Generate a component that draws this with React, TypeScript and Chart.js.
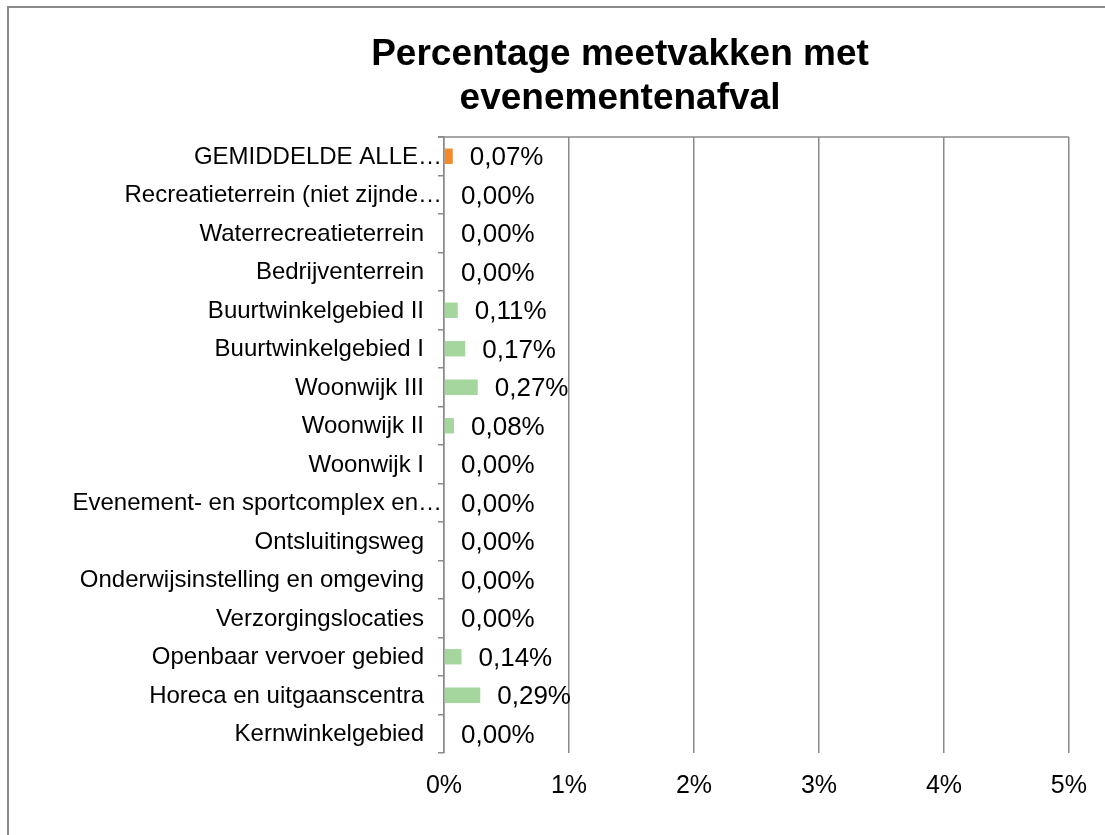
import React, { useEffect, useRef } from "react";
import { Chart, registerables } from "chart.js";

Chart.register(...registerables);

const TITLE_LINES = ["Percentage meetvakken met", "evenementenafval"];

const categories = [
  "GEMIDDELDE ALLE…",
  "Recreatieterrein (niet zijnde…",
  "Waterrecreatieterrein",
  "Bedrijventerrein",
  "Buurtwinkelgebied II",
  "Buurtwinkelgebied I",
  "Woonwijk III",
  "Woonwijk II",
  "Woonwijk I",
  "Evenement- en sportcomplex en…",
  "Ontsluitingsweg",
  "Onderwijsinstelling en omgeving",
  "Verzorgingslocaties",
  "Openbaar vervoer gebied",
  "Horeca en uitgaanscentra",
  "Kernwinkelgebied",
];

const values = [0.07, 0.0, 0.0, 0.0, 0.11, 0.17, 0.27, 0.08, 0.0, 0.0, 0.0, 0.0, 0.0, 0.14, 0.29, 0.0];

const xTicks = [0, 1, 2, 3, 4, 5];

const FONT = "'Liberation Sans', Arial, sans-serif";
const ORANGE = "#F08A2E";
const GREEN = "#A4D69E";
const GRID = "#8a8a8a";

const fmt = (v: number) => v.toFixed(2).replace(".", ",") + "%";

const decorPlugin = {
  id: "decor",
  beforeDraw(chart: any) {
    const ctx = chart.ctx;
    ctx.save();
    ctx.strokeStyle = "#8a8a8a";
    ctx.lineWidth = 2;
    ctx.strokeRect(8, 7, 1300, 1000);
    ctx.restore();
  },
  afterDraw(chart: any) {
    const ctx = chart.ctx;
    const area = chart.chartArea;
    const yScale = chart.scales.y;
    ctx.save();
    // top frame line
    ctx.strokeStyle = GRID;
    ctx.lineWidth = 1.5;
    ctx.beginPath();
    ctx.moveTo(area.left - 6, area.top);
    ctx.lineTo(area.right, area.top);
    ctx.stroke();
    // title
    ctx.fillStyle = "#000";
    ctx.font = `bold 37px ${FONT}`;
    ctx.textAlign = "center";
    ctx.textBaseline = "middle";
    ctx.fillText(TITLE_LINES[0], 620, 55);
    ctx.fillText(TITLE_LINES[1], 620, 99);
    // category labels (truncated ones reach closer to the axis, as in the source)
    ctx.font = `24px ${FONT}`;
    ctx.textAlign = "right";
    categories.forEach((label, i) => {
      const y = yScale.getPixelForTick(i);
      const truncated = label.endsWith("…");
      ctx.fillText(label, area.left - (truncated ? 2 : 20), y + 1);
    });
    // data labels
    const meta = chart.getDatasetMeta(0);
    ctx.font = `26px ${FONT}`;
    ctx.textAlign = "left";
    meta.data.forEach((bar: any, i: number) => {
      ctx.fillText(fmt(values[i]), bar.x + 17, bar.y + 2);
    });
    ctx.restore();
  },
};

export default function App() {
  const ref = useRef<HTMLCanvasElement | null>(null);
  useEffect(() => {
    if (!ref.current) return;
    const chart = new Chart(ref.current, {
      type: "bar",
      data: {
        labels: categories,
        datasets: [
          {
            data: values,
            backgroundColor: (c: any) => (c.dataIndex === 0 ? ORANGE : GREEN),
            borderWidth: 0,
            barPercentage: 0.4,
            categoryPercentage: 1,
          },
        ],
      },
      options: {
        indexAxis: "y",
        responsive: false,
        animation: false,
        layout: { padding: { top: 137, right: 34, left: 0, bottom: 0 } },
        plugins: { legend: { display: false }, title: { display: false }, tooltip: { enabled: false } },
        scales: {
          x: {
            min: 0,
            max: 5,
            afterBuildTicks: (s: any) => {
              s.ticks = xTicks.map((v) => ({ value: v }));
            },
            afterFit: (s: any) => {
              s.height = 82;
            },
            border: { display: false },
            grid: { color: GRID, lineWidth: 1.5, drawTicks: false },
            ticks: {
              padding: 18,
              color: "#000",
              font: { family: FONT, size: 25 },
              callback: (v: any) => `${v}%`,
            },
          },
          y: {
            afterFit: (s: any) => {
              s.width = 444;
            },
            border: { display: true, color: GRID, width: 1.5 },
            grid: { offset: true, drawOnChartArea: false, color: GRID, lineWidth: 1.5, tickLength: 6 },
            ticks: {
              display: false,
              autoSkip: false,
            },
          },
        },
      },
      plugins: [decorPlugin],
    } as any);
    return () => chart.destroy();
  }, []);
  return (
    <div style={{ position: "absolute", left: 0, top: 0, width: 1105, height: 835, background: "#fff" }}>
      <canvas ref={ref} width={1105} height={835} style={{ display: "block" }} />
    </div>
  );
}
